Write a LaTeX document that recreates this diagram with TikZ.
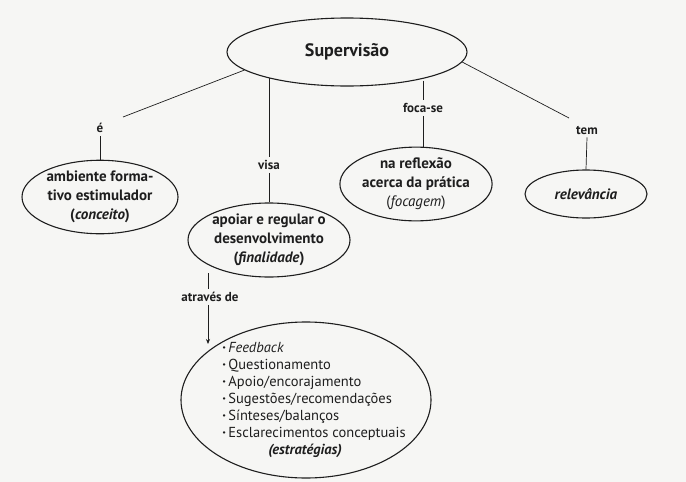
\documentclass[tikz,border=0pt]{standalone}
\usepackage{fontspec}
\setmainfont{PT Sans}
\usetikzlibrary{arrows.meta,shapes.geometric}

\definecolor{paper}{RGB}{246,246,244}
\definecolor{ink}{RGB}{30,30,30}

\newcommand*{\picw}{686}
\newcommand*{\pich}{482}
\newcommand*{\itemdot}{\textbf{·}\,}

\begin{document}
\begin{tikzpicture}
[
	x=1pt, y=-1pt,
	bubble/.style={ellipse,draw=ink,line width=1.1pt,inner sep=0pt,align=center,
		font=\fontsize{15}{19}\selectfont\bfseries,text=ink},
	link/.style={draw=ink,line width=0.7pt},
	linkname/.style={inner sep=3pt,font=\fontsize{13}{15}\selectfont\bfseries,text=ink}
]

	% paper
	\fill[paper] (0,0) rectangle (\picw,\pich);
	\useasboundingbox (0,0) rectangle (\picw,\pich);

	% concepts
	\node[bubble,minimum width=240,minimum height=68,font=\fontsize{18}{20}\selectfont\bfseries]
		at (347,52) (sup) {Supervisão};
	\node[bubble,minimum width=156,minimum height=72] at (100,197) (amb)
		{ambiente forma-\\tivo estimulador\\(\textit{conceito})};
	\node[bubble,minimum width=162,minimum height=74] at (269,240) (apo)
		{apoiar e regular o\\desenvolvimento\\(\textit{finalidade})};
	\node[bubble,minimum width=140,minimum height=72] at (416,184) (refl)
		{na reflexão\\acerca da prática\\{\mdseries(\textit{focagem})}};
	\node[bubble,minimum width=122,minimum height=48] at (586,194) (relev)
		{\textit{relevância}};
	\node[bubble,minimum width=250,minimum height=156,inner xsep=-12pt,inner ysep=-8pt,
		font=\fontsize{14.5}{17}\selectfont]
		at (306,400) (estr)
		{\begin{tabular}{@{\hspace{16pt}}l@{}}
		\itemdot\textit{Feedback}\\
		\itemdot Questionamento\\
		\itemdot Apoio/encorajamento\\
		\itemdot Sugestões/recomendações\\
		\itemdot Sínteses/balanços\\
		\itemdot Esclarecimentos conceptuais\\
		\hspace*{46pt}\textbf{\textit{(estratégias)}}
		\end{tabular}};

	% link names
	\node[linkname] at (100,128) (e) {é};
	\node[linkname] at (269,165) (visa) {visa};
	\node[linkname] at (423,108) (foca) {foca-se};
	\node[linkname] at (587,130) (tem) {tem};
	\node[linkname] at (210,297) (atraves) {através de};

	\coordinate (eend) at (123,117);
	\coordinate (temend) at (569,118);
	\coordinate (estrin) at (208,344);

	% links
	\draw[link] (sup.190) -- (eend);
	\draw[link] (e.south) -- (amb.north);
	\draw[link] (visa.north |- sup.198.4) -- (visa.north);
	\draw[link] (visa.south) -- (apo.north);
	\draw[link] (foca.north |- sup.south) ++(0,-6) -- (foca.north);
	\draw[link] (foca.south) -- (foca.south |- refl.north);
	\draw[link] (sup.-5) -- (temend);
	\draw[link] (tem.south) -- (relev.north);
	\draw[link] (208,0 |- apo.222) -- (atraves.north -| 208,0);
	\draw[link,-{Stealth[length=5pt,width=4pt]}] (atraves.south -| estrin) -- (estrin);

\end{tikzpicture}
\end{document}
